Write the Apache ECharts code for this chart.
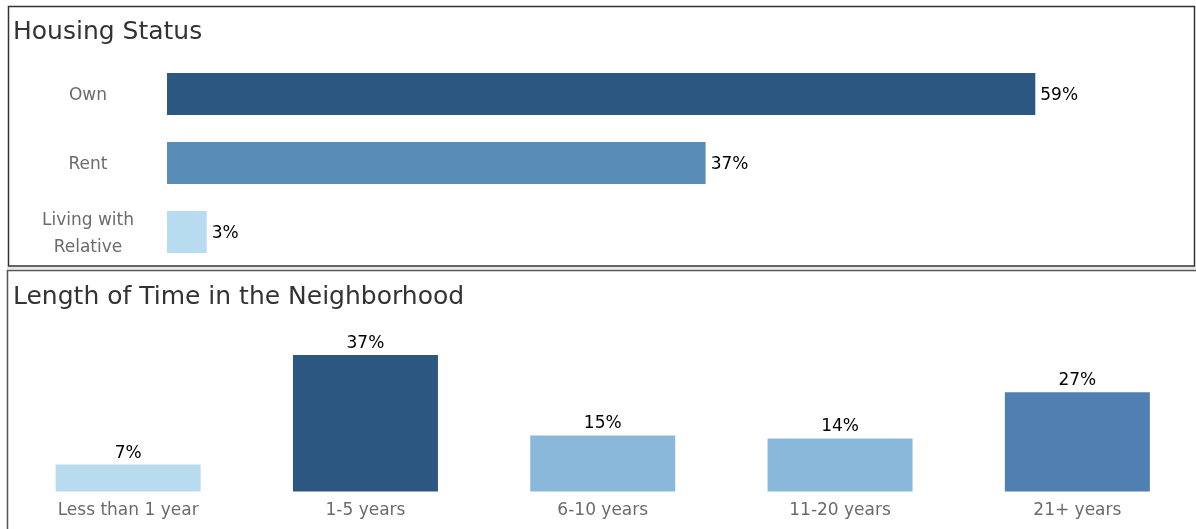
<!DOCTYPE html>
<html>
<head>
<meta charset="utf-8">
<script src="https://cdn.jsdelivr.net/npm/echarts@6/dist/echarts.min.js"></script>
<style>
  html, body { margin: 0; padding: 0; background: #fff; }
  #main { width: 1196px; height: 529px; }
</style>
</head>
<body>
<div id="main"></div>
<script>
// housing status (share of respondents, %)
var housingCats = ['Own', 'Rent', 'Living with\nRelative'];
var housingVals = [59, 36.6, 2.7];
// length of time in the neighborhood (%)
var timeCats = ['Less than 1 year', '1-5 years', '6-10 years', '11-20 years', '21+ years'];
var timeVals = [7.3, 37, 15.2, 14.4, 26.9];

var housingColors = ['#2c5781', '#5a8cb8', '#b7dbef'];
var timeColors = ['#b8dbef', '#2c5781', '#8ab8da', '#8ab8da', '#4f80b1'];

var FONT = '"DejaVu Sans", sans-serif';

function pct(p) {
    return Math.round(p.value) + '%';
}

// wrap each line in a rich block so it can be nudged down a little
function catLabel(value) {
    return value.split('\n').map(function (s) {
        return '{c|' + s + '}';
    }).join('\n');
}

var myChart = echarts.init(document.getElementById('main'));

var option = {
    animation: false,
    backgroundColor: '#fff',
    title: [
        {text: 'Housing Status', left: 13, top: 20, padding: 0,
            textStyle: {fontFamily: FONT, fontSize: 25, fontWeight: 'normal', color: '#333'}},
        {text: 'Length of Time in the Neighborhood', left: 13, top: 285, padding: 0,
            textStyle: {fontFamily: FONT, fontSize: 25, fontWeight: 'normal', color: '#333'}}
    ],
    graphic: [
        {type: 'rect', shape: {x: 8.5, y: 6.5, width: 1186, height: 259.5},
            style: {fill: 'none', stroke: '#333', lineWidth: 1.5}, silent: true},
        {type: 'line', shape: {x1: 7, y1: 268, x2: 1196, y2: 268},
            style: {stroke: '#ccc', lineWidth: 1}, silent: true},
        {type: 'rect', shape: {x: 7.5, y: 270.5, width: 1200, height: 270},
            style: {fill: 'none', stroke: '#555', lineWidth: 1.5}, silent: true}
    ],
    grid: [
        {left: 167, top: 59.5, width: 883, height: 207},
        {left: 9.5, top: 344, width: 1191, height: 147.5}
    ],
    xAxis: [
        {gridIndex: 0, type: 'value', min: 0, max: 60, show: false},
        {gridIndex: 1, type: 'category', data: timeCats,
            axisLine: {show: false}, axisTick: {show: false},
            axisLabel: {fontFamily: FONT, fontSize: 17, color: '#6b6b6b', margin: 11, interval: 0}}
    ],
    yAxis: [
        {gridIndex: 0, type: 'category', data: housingCats, inverse: true,
            axisLine: {show: false}, axisTick: {show: false},
            axisLabel: {fontFamily: FONT, fontSize: 17, color: '#6b6b6b', align: 'center',
                margin: 79, formatter: catLabel,
                rich: {c: {fontFamily: FONT, fontSize: 17, color: '#6b6b6b', lineHeight: 27,
                    padding: [4, 0, 0, 0]}}}},
        {gridIndex: 1, type: 'value', min: 0, max: 40, show: false}
    ],
    series: [
        {
            type: 'bar', xAxisIndex: 0, yAxisIndex: 0, barWidth: 42,
            data: housingVals.map(function (v, i) {
                return {value: v, itemStyle: {color: housingColors[i]}};
            }),
            label: {show: true, position: 'right', distance: 5, offset: [0, 2], formatter: pct,
                fontFamily: FONT, fontSize: 17, color: '#000'}
        },
        {
            type: 'bar', xAxisIndex: 1, yAxisIndex: 1, barWidth: 145,
            data: timeVals.map(function (v, i) {
                return {value: v, itemStyle: {color: timeColors[i]}};
            }),
            label: {show: true, position: 'top', distance: 3, formatter: pct,
                fontFamily: FONT, fontSize: 17, color: '#000'}
        }
    ]
};
myChart.setOption(option);
</script>
</body>
</html>
